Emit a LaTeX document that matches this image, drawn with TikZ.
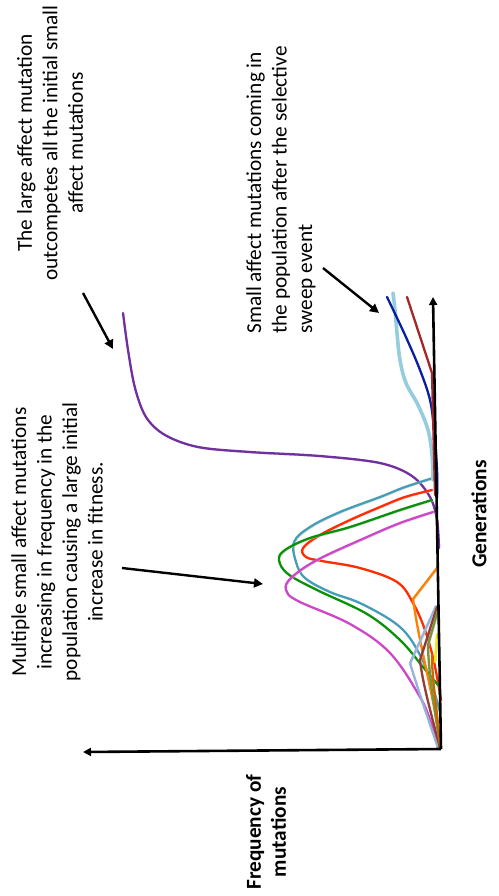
\documentclass[tikz,border=0pt]{standalone}
\usepackage{fontspec}
\setmainfont{Carlito}
\usetikzlibrary{arrows.meta}
\definecolor{cteal}{RGB}{70,158,182}
\definecolor{cred}{RGB}{255,45,0}
\definecolor{cgreen}{RGB}{10,145,10}
\definecolor{cmag}{RGB}{205,72,200}
\definecolor{cpurple}{RGB}{112,48,160}
\definecolor{corange}{RGB}{255,128,0}
\definecolor{clblue}{RGB}{150,205,222}
\definecolor{cnavy}{RGB}{10,30,160}
\definecolor{cdred}{RGB}{165,40,40}
\definecolor{csteel}{RGB}{150,180,215}
\definecolor{cbrown}{RGB}{150,60,55}
\definecolor{colive}{RGB}{119,147,60}
\definecolor{cyellow}{RGB}{245,235,0}
\begin{document}
\begin{tikzpicture}[x=1pt,y=-1pt,
  note/.style={rotate=90,font=\fontsize{21.3}{25.5}\selectfont,inner sep=0pt},
  lbl/.style={rotate=90,font=\fontsize{21.3}{25}\selectfont\bfseries,inner sep=0pt,align=center},
  arr/.style={line width=2.4pt,-{Triangle[length=9pt,width=9pt]}},
  axis/.style={line width=2.6pt,-{Triangle[length=8pt,width=8pt]}},
  curve/.style={line width=2.3pt,line cap=round,
    preaction={draw=black!22,transform canvas={shift={(1pt,-1.2pt)}}}},
  sm/.style={smooth,tension=0.6}]
\useasboundingbox (0,0) rectangle (498,896);

% axes
\coordinate (O) at (441,749);
\coordinate (xE) at (83,752);
\coordinate (yE) at (433,297);

% curves
\draw[curve,cpurple] plot[smooth,tension=0.55] coordinates {(439,548) (437,520) (430,497) (412,476) (380,463) (320,456) (250,452) (198,447) (165,435) (146,417) (135,388) (128,350) (123,313)};
\draw[curve,cteal] plot[sm] coordinates {(433,478) (405,487) (380,497) (340,512) (310,527) (294,542) (296,562) (305,578) (330,592) (362,604) (400,627) (420,655) (432,685) (440,712)};
\draw[curve,cred] plot[sm] coordinates {(432,490) (405,497) (380,507) (350,520) (320,535) (303,548) (306,557) (322,561) (360,568) (397,582) (413,603) (425,630) (434,662) (441,700)};
\draw[curve,cgreen] plot[sm] coordinates {(432,500) (400,510) (350,527) (310,538) (285,550) (279,560) (288,574) (317,590) (367,614) (400,640) (423,667) (438,685)};
\draw[curve,cmag] plot[sm] coordinates {(433,512) (400,523) (367,537) (317,560) (291,578) (286,590) (298,601) (350,624) (390,653) (420,697) (432,725) (440,747)};
\draw[curve,corange] (437,568) -- (413,599) .. controls (420,650) and (435,700) .. (440,745);
\draw[curve,csteel] (438,748) .. controls (425,710) and (415,680) .. (410,663) -- (436,606);
\draw[curve,cbrown] (440,748) .. controls (430,710) and (422,680) .. (420,660) -- (437,607);
\draw[curve,colive] (440,745) .. controls (433,700) and (428,665) .. (428,645) -- (438,610);
\draw[curve,corange!80!black] (440,745) .. controls (436,700) and (432,680) .. (432,655);
\draw[curve,cyellow] (437,634) -- (435,662);
\draw[curve,clblue,line width=3.6pt] plot[sm] coordinates {(433,480) (432,455) (428,430) (418,405) (406,383) (400,360) (397,333) (395,310) (393,293)};
\draw[curve,cnavy] plot[sm] coordinates {(437,498) (437,470) (434,430) (430,400) (420,370) (405,335) (387,297)};
\draw[curve,cdred] (435,495) -- (432,373) -- (407,297);

\draw[axis] (O) -- (xE);
\draw[axis] (O) -- (yE);

% labels
\node[lbl] (gen) at (479,514) {Generations};
\node[lbl] (freq) at (266,832) {Frequency of\\mutations};

% annotations
\node[note,align=center] (t1) at (50,143) {The large affect mutation\\outcompetes all the initial small\\affect mutations};
\node[note,align=left] (t2) at (281,190) {Small affect mutations coming in\\the population after the selective\\sweep event};
\node[note,align=center] (t3) at (57,542) {Multiple small affect mutations\\increasing in frequency in the\\population causing a large initial\\increase in fitness.};

\coordinate (a1s) at (83,293);
\coordinate (a1e) at (113,349);
\coordinate (a2s) at (323,268);
\coordinate (a2e) at (379,313);
\coordinate (a3s) at (122,568);
\coordinate (a3e) at (263,584);
\draw[arr] (a1s) -- (a1e);
\draw[arr] (a2s) -- (a2e);
\draw[arr] (a3s) -- (a3e);
\end{tikzpicture}
\end{document}
